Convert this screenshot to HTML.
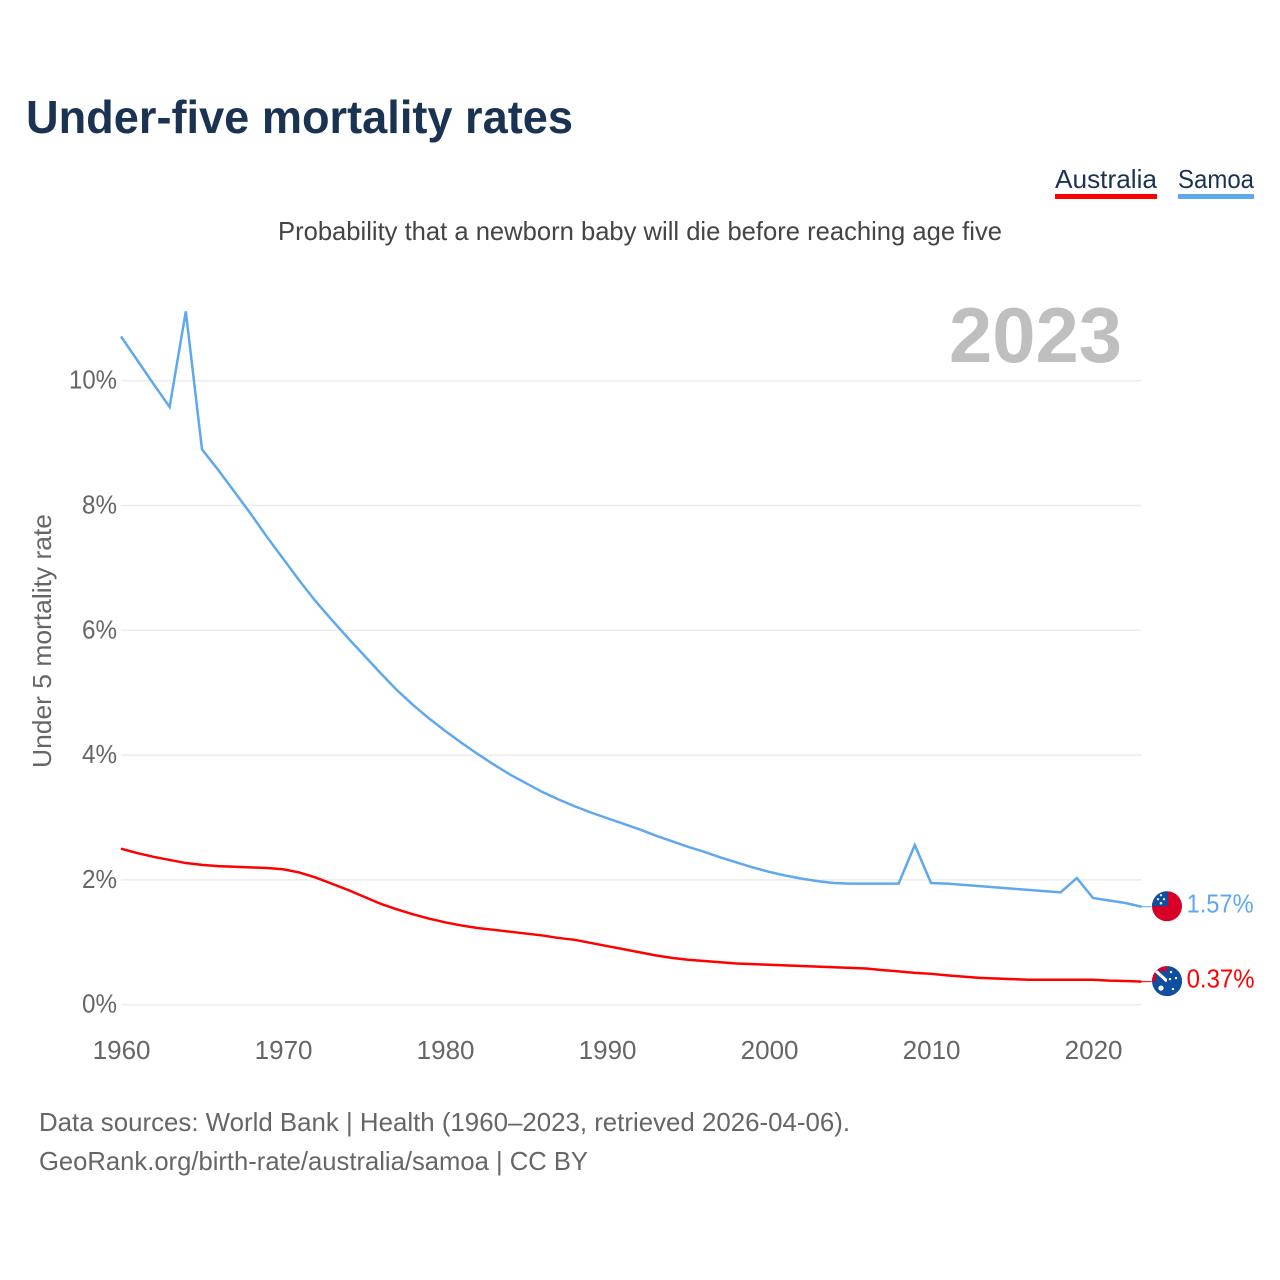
<!DOCTYPE html>
<html lang="en">
<head>
<meta charset="utf-8">
<title>Under-five mortality rates</title>
<style>
html,body{margin:0;padding:0;background:#fff;width:1280px;height:1280px;overflow:hidden}
svg{display:block;font-family:"Liberation Sans",sans-serif}
</style>
</head>
<body>
<svg id="chart" xmlns="http://www.w3.org/2000/svg" width="1280" height="1280" viewBox="0 0 1280 1280">
<rect width="1280" height="1280" fill="#fff"/>
<text x="26" y="133" font-size="46" font-weight="700" fill="#1a3353" textLength="547" lengthAdjust="spacingAndGlyphs">Under-five mortality rates</text>
<g>
<text x="1055" y="188" font-size="26" fill="#1a3353" textLength="102" lengthAdjust="spacingAndGlyphs">Australia</text>
<rect x="1055" y="194" width="102" height="5" fill="#ff0000"/>
</g>
<g>
<text x="1178" y="188" font-size="26" fill="#1a3353" textLength="76" lengthAdjust="spacingAndGlyphs">Samoa</text>
<rect x="1178" y="194" width="76" height="5" fill="#5fa8ee"/>
</g>
<text x="278" y="240" font-size="26" fill="#444" textLength="724" lengthAdjust="spacingAndGlyphs">Probability that a newborn baby will die before reaching age five</text>
<text x="949" y="362" font-size="78" font-weight="700" fill="#bfbfbf" textLength="173" lengthAdjust="spacingAndGlyphs">2023</text>
<text transform="translate(51,768) rotate(-90)" font-size="26" fill="#666" textLength="254" lengthAdjust="spacingAndGlyphs">Under 5 mortality rate</text>
<g id="grid"></g>
<g id="yticks"></g>
<g id="xticks"></g>
<g id="series"></g>
<clipPath id="flag-clip"><circle cx="0" cy="0" r="15"/></clipPath>
<g id="flag-samoa">
<g clip-path="url(#flag-clip)">
<rect x="-15" y="-15" width="30" height="30" fill="#d80027"/>
<rect x="-15" y="-16" width="16" height="16" fill="#0f4ea0"/>
<g fill="#dfe8f5"><circle cx="-6" cy="-11" r="1.2"/><circle cx="-3" cy="-7" r="1.2"/><circle cx="-9" cy="-7" r="1.2"/><circle cx="-6" cy="-3" r="1.3"/></g>
</g>
</g>
<g id="flag-australia">
<g clip-path="url(#flag-clip)">
<rect x="-15" y="-15" width="30" height="30" fill="#0f4ea0"/>
<rect x="-15" y="-15" width="15" height="15" fill="#d80027"/>
<rect x="-11" y="-10" width="11" height="10" fill="#0f4ea0"/>
<path d="M-11-10L0 0" stroke="#fff" stroke-width="3"/>
<rect x="0" y="-16" width="16" height="32" fill="#0f4ea0"/>
<g fill="#fff"><circle cx="-6" cy="7" r="2.6"/><circle cx="4" cy="-9" r="1.2"/><circle cx="9" cy="-3" r="1.2"/><circle cx="3" cy="-2" r="1.2"/><circle cx="6" cy="8" r="1.2"/></g>
</g>
</g>
<text id="label-samoa" font-size="26" fill="#5fa8ee" textLength="67" lengthAdjust="spacingAndGlyphs"></text>
<text id="label-australia" font-size="26" fill="#ff0000" textLength="68" lengthAdjust="spacingAndGlyphs"></text>
<text x="39" y="1131" font-size="26" fill="#666" textLength="811" lengthAdjust="spacingAndGlyphs">Data sources: World Bank | Health (1960–2023, retrieved 2026-04-06).</text>
<text x="39" y="1170" font-size="26" fill="#666" textLength="549" lengthAdjust="spacingAndGlyphs">GeoRank.org/birth-rate/australia/samoa | CC BY</text>
</svg>
<script>
const startYear = 1960;
const yTickValues = [0, 2, 4, 6, 8, 10];
const xTickYears = [1960, 1970, 1980, 1990, 2000, 2010, 2020];
const australiaValues = [2.50,2.43,2.37,2.32,2.27,2.24,2.22,2.21,2.20,2.19,2.17,2.12,2.04,1.94,1.84,1.73,1.62,1.53,1.45,1.38,1.32,1.27,1.23,1.20,1.17,1.14,1.11,1.07,1.04,0.99,0.94,0.89,0.84,0.79,0.75,0.72,0.70,0.68,0.66,0.65,0.64,0.63,0.62,0.61,0.60,0.59,0.58,0.555,0.535,0.51,0.495,0.47,0.45,0.43,0.42,0.41,0.40,0.40,0.40,0.40,0.40,0.385,0.38,0.37];
const samoaValues = [10.71,10.33,9.95,9.58,11.11,8.90,8.57,8.22,7.87,7.50,7.15,6.80,6.47,6.17,5.88,5.60,5.32,5.05,4.81,4.59,4.39,4.20,4.02,3.85,3.69,3.55,3.41,3.29,3.18,3.08,2.99,2.90,2.81,2.71,2.62,2.53,2.45,2.36,2.28,2.20,2.13,2.07,2.02,1.98,1.95,1.94,1.94,1.94,1.94,2.56,1.95,1.94,1.92,1.90,1.88,1.86,1.84,1.82,1.80,2.03,1.71,1.67,1.63,1.57];

const NS = 'http://www.w3.org/2000/svg';
const xScale = function (year) { return 121 + (year - startYear) * 16.2; };
const yScale = function (value) { return 1004.7 - value * 62.4; };
const plotRight = xScale(startYear + samoaValues.length - 1);

function make(tag, parent, attrs) {
  const el = document.createElementNS(NS, tag);
  Object.keys(attrs).forEach(function (k) { el.setAttribute(k, attrs[k]); });
  parent.appendChild(el);
  return el;
}

const grid = document.getElementById('grid');
const yticks = document.getElementById('yticks');
yTickValues.forEach(function (v) {
  const line = make('line', grid, { x1: xScale(startYear), x2: plotRight, y1: yScale(v), y2: yScale(v), stroke: '#ececec', 'stroke-width': 1.5 });
  
  
  const label = String(v) + '%';
  const t = make('text', yticks, { x: 117, y: yScale(v) + 8, 'text-anchor': 'end', 'font-size': 26, fill: '#666', textLength: 22 + 13 * String(v).length, lengthAdjust: 'spacingAndGlyphs' });
  t.textContent = label;
  
  
});

const xticks = document.getElementById('xticks');
xTickYears.forEach(function (yr) {
  const t = make('text', xticks, { x: xScale(yr) + 0.6, y: 1059, 'text-anchor': 'middle', 'font-size': 26, fill: '#666' });
  t.textContent = String(yr);
  
  
});

function drawSeries(values, color, name, flagId, labelId) {
  const group = document.getElementById('series');
  const pts = values.map(function (v, i) { return xScale(startYear + i).toFixed(2) + ',' + yScale(v).toFixed(2); }).join(' ');
  const line = make('polyline', group, { points: pts, fill: 'none', stroke: color, 'stroke-width': 2.5, 'stroke-linejoin': 'miter' });
  
  
  const last = values[values.length - 1];
  const ly = yScale(last);
  const conn = make('line', group, { x1: plotRight, x2: plotRight + 10, y1: ly, y2: ly, stroke: color, 'stroke-width': 1 });
  
  
  document.getElementById(flagId).setAttribute('transform', 'translate(' + (plotRight + 25.4) + ',' + (ly - 0.5) + ')');
  const lab = document.getElementById(labelId);
  lab.setAttribute('x', plotRight + 45);
  lab.setAttribute('y', ly + 6);
  lab.textContent = last.toFixed(2) + '%';
}
drawSeries(australiaValues, '#ff0000', 'australia', 'flag-australia', 'label-australia');
drawSeries(samoaValues, '#5fa8ee', 'samoa', 'flag-samoa', 'label-samoa');
</script>
</body>
</html>
